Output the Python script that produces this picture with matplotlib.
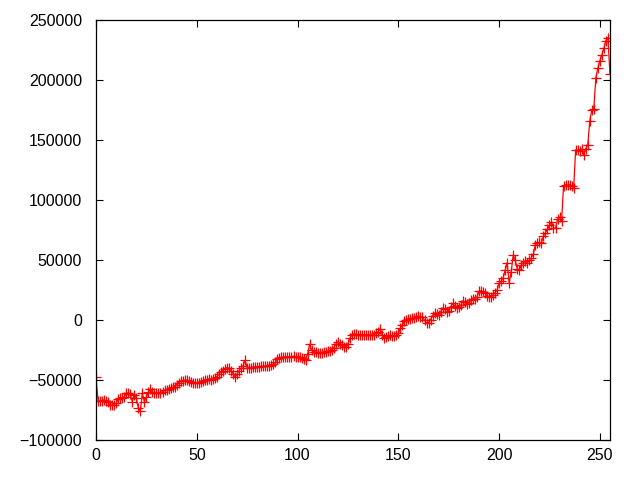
import numpy as np
import matplotlib
matplotlib.use("Agg")
import matplotlib.pyplot as plt

# values, one per index 0..255
values = [
    -47000,
    -67000, -67500, -67000, -66500, -67500, -68500,
    -70500, -71000, -70500, -69000,
    -66000, -64500, -65000, -64000,
    -61000, -60500, -61500,
    -68000, -62000, -65000, -73000, -76000, -61000, -68000, -64000, -60000, -57500,
    -60000, -61000, -61000, -60500, -60500, -59500,
    -58500, -58000, -57000, -56500, -56000, -55500, -54000,
    -52000, -51000, -50500, -50000, -50000, -51000, -51500, -52000,
    -52500, -52500, -52000, -51500, -50500, -50000, -49500,
    -49000, -49500, -49000, -48000, -47000, -45000,
    -43000, -42000, -40500, -39500, -40000, -42000,
    -44500, -47500,
    -45000, -42000, -40000,
    -38000, -33500,
    -39500,
    -40000, -39500, -39000, -39000, -39000, -39000, -38500, -38500, -38500, -38000, -38000, -37500,
    -36500, -35000,
    -32500, -31500, -31000, -31000, -30500, -30500, -30500, -30500, -30000, -30500, -30500, -31000,
    -31500, -32500, -33000,
    -28000, -20000, -25000, -26500,
    -26500, -27000, -27000, -27000, -26500, -26500, -26000, -25500, -24500, -23000,
    -20000, -18000,
    -19500, -21000, -22000, -22500, -20000,
    -15000,
    -12000, -11500, -11500, -12000, -12000, -12000, -12000, -12500, -12000, -12000, -12500, -12000, -11000,
    -9500, -7000, -12000,
    -15000, -14000, -13000, -12500, -13000, -13000, -12500, -11000,
    -6500, -4000,
    -1000, 500, 1000, 1000, 1500, 2000, 2500,
    3500, 3000, 2500,
    0, -2500, -2000, 500,
    3500, 6000, 5000, 4000,
    7000, 10000, 9000, 6500, 8000,
    11000, 14000, 12000, 10000, 11000, 12500,
    16000, 15000, 13500, 14000, 17000, 18000, 17500, 19000,
    24000, 24500, 23500, 23000,
    20000, 19000, 19500, 21000,
    23000,
    25000, 31000, 32500,
    35000, 41500, 48000, 31000, 40000, 54000, 50000, 43000, 41500,
    46000, 48000, 49000, 48000, 50000, 52000,
    55000,
    63000, 64000, 65000, 64500,
    70000, 73000,
    76000, 79000, 82000, 77000, 76500,
    84000, 86000, 82500,
    112000, 113000, 112500, 113000, 112000, 110000,
    142000, 141500, 141000, 142500, 138000, 143000, 146000,
    166000, 175000, 176000, 201500, 210000, 216000, 221000, 226500, 233000, 235500, 205500,
]
x = np.arange(len(values))

plt.rcParams['font.family'] = ['Liberation Sans', 'DejaVu Sans']

fig = plt.figure(figsize=(6.4, 4.8), dpi=100)
ax = fig.add_axes([0.15, 0.083, 0.803, 0.875])

ax.plot(x, values, color='red', linewidth=0.9, marker='+',
        markersize=7, markeredgewidth=0.9, clip_on=True)

ax.set_xlim(0, 255)
ax.set_ylim(-100000, 250000)
ax.set_xticks([0, 50, 100, 150, 200, 250])
ax.set_yticks(np.arange(-100000, 250001, 50000))
ax.tick_params(direction='in', length=5, width=0.8, top=True, right=True,
               labelsize=11.5, colors='black')
ax.tick_params(axis='y', pad=10)
ax.tick_params(axis='x', pad=6)
for s in ax.spines.values():
    s.set_linewidth(0.9)

fig.savefig("out.png", dpi=100)
